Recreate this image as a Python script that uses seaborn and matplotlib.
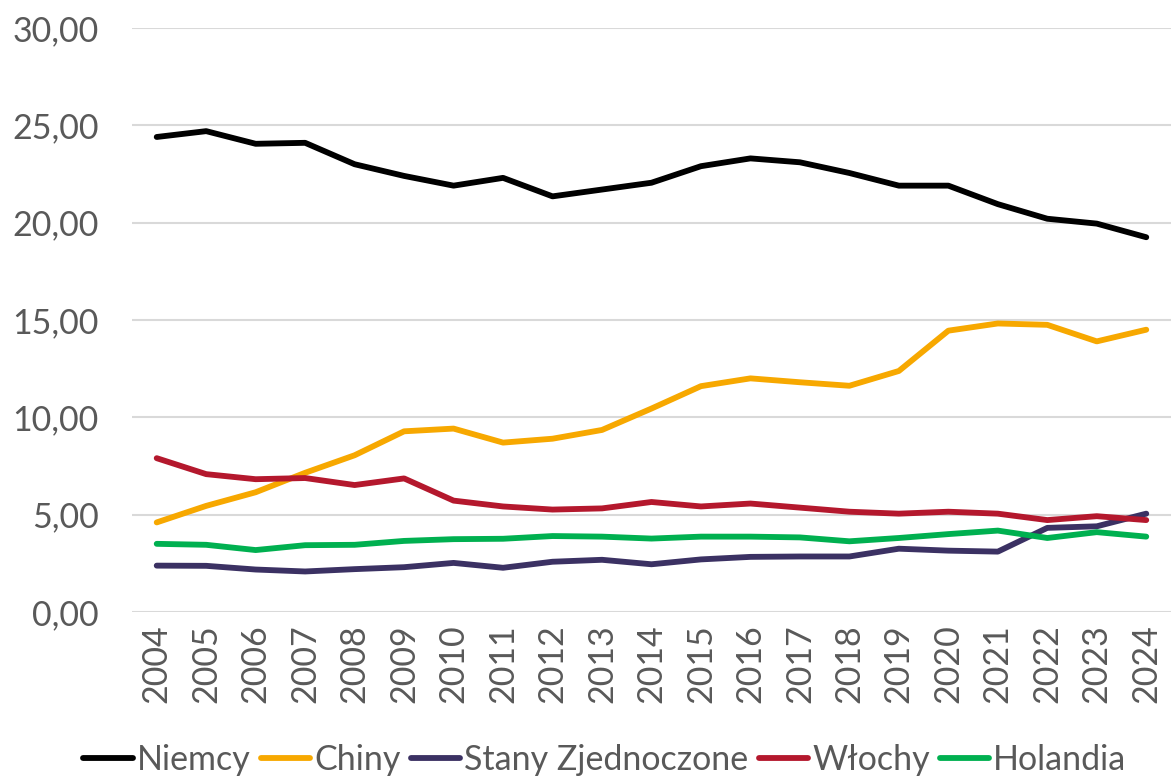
import pandas as pd
import matplotlib.pyplot as plt
import seaborn as sns

years = list(range(2004, 2025))

niemcy = [24.4, 24.7, 24.05, 24.1, 23.0, 22.4, 21.9, 22.3, 21.35, 21.7, 22.05,
          22.9, 23.3, 23.1, 22.55, 21.9, 21.9, 20.95, 20.2, 19.95, 19.25]
chiny = [4.6, 5.45, 6.15, 7.15, 8.05, 9.28, 9.42, 8.7, 8.9, 9.35, 10.45,
         11.6, 12.0, 11.8, 11.62, 12.38, 14.45, 14.82, 14.75, 13.9, 14.5]
stany = [2.38, 2.37, 2.18, 2.08, 2.2, 2.3, 2.52, 2.27, 2.58, 2.68, 2.45,
         2.7, 2.83, 2.85, 2.85, 3.25, 3.15, 3.1, 4.32, 4.4, 5.05]
wlochy = [7.9, 7.08, 6.82, 6.88, 6.52, 6.86, 5.72, 5.42, 5.26, 5.32, 5.65,
          5.42, 5.57, 5.36, 5.15, 5.05, 5.15, 5.05, 4.72, 4.92, 4.72]
holandia = [3.5, 3.45, 3.18, 3.43, 3.45, 3.65, 3.74, 3.76, 3.9, 3.87, 3.77,
            3.87, 3.87, 3.83, 3.63, 3.8, 4.0, 4.18, 3.8, 4.1, 3.87]

series = {
    "Niemcy": niemcy,
    "Chiny": chiny,
    "Stany Zjednoczone": stany,
    "Włochy": wlochy,
    "Holandia": holandia,
}
colors = {
    "Niemcy": "#000000",
    "Chiny": "#F7A800",
    "Stany Zjednoczone": "#3B3163",
    "Włochy": "#B4182D",
    "Holandia": "#00B050",
}

rows = []
for name, vals in series.items():
    for y, v in zip(years, vals):
        rows.append({"Rok": y, "Wartość": v, "Kraj": name})
df = pd.DataFrame(rows)

sns.set_theme(style="white")
plt.rcParams['font.family'] = ['Lato', 'DejaVu Sans']
txt = "#595959"
fs = 24.5
lw = 4.2

fig = plt.figure(figsize=(11.71, 7.77), dpi=100)
ax = fig.add_axes([0.1127, 0.2124, 0.8873, 0.7516])

sns.lineplot(data=df, x="Rok", y="Wartość", hue="Kraj", palette=colors,
             hue_order=list(series.keys()), linewidth=lw, ax=ax,
             solid_capstyle="round", legend=False)

ax.set_xlim(years[0] - 0.5, years[-1] + 0.5)
ax.set_ylim(0, 30)
ax.set_yticks(range(0, 31, 5))
ax.set_yticklabels([f"{v},00" for v in range(0, 31, 5)])
ax.set_xticks(years)
ax.set_xticklabels([str(y) for y in years], rotation=90)
ax.yaxis.grid(True, color="#D9D9D9", linewidth=1.5)
ax.xaxis.grid(False)
ax.set_axisbelow(True)
for s in ax.spines.values():
    s.set_visible(False)
ax.tick_params(axis="both", length=0, labelsize=fs, colors=txt)
ax.tick_params(axis="y", pad=24)
ax.tick_params(axis="x", pad=9)
ax.set_xlabel("")
ax.set_ylabel("")

handles = [plt.Line2D([], [], color=colors[n], linewidth=lw, solid_capstyle="round")
           for n in series]
fig.legend(handles, list(series.keys()), loc="center",
           bbox_to_anchor=(605 / 1171, 1 - 760 / 777), ncol=5, frameon=False,
           fontsize=fs, labelcolor=txt, handlelength=1.45, handletextpad=0.12,
           columnspacing=0.3, borderaxespad=0)

fig.savefig("out.png", dpi=100)
